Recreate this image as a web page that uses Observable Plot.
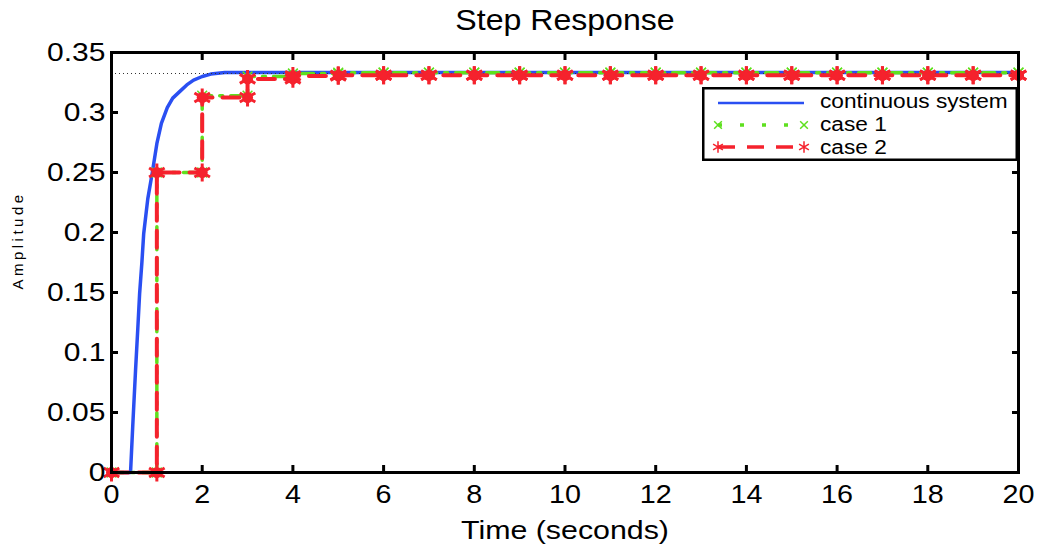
<!DOCTYPE html>
<html>
<head>
<meta charset="utf-8">
<script src="https://cdn.jsdelivr.net/npm/d3@7"></script>
<script src="https://cdn.jsdelivr.net/npm/@observablehq/plot@0.6"></script>
<style>
  html, body { margin: 0; padding: 0; background: #fff; }
  #wrap { position: relative; width: 1040px; height: 550px; }
  #legend { position: absolute; left: 702px; top: 87px; }
</style>
</head>
<body>
<div id="wrap"></div>
<script>
// ---- data ----
const xTicks = [0, 2, 4, 6, 8, 10, 12, 14, 16, 18, 20];
const yTicks = [0, 0.05, 0.1, 0.15, 0.2, 0.25, 0.3, 0.35];
const yTickLabels = ["0", "0.05", "0.1", "0.15", "0.2", "0.25", "0.3", "0.35"];

// continuous system
const contT = [0, 0.42, 0.47, 0.53, 0.58, 0.62, 0.67, 0.71, 0.8, 0.9, 1.0, 1.1, 1.23, 1.35, 1.52, 1.66, 1.81, 2.0, 2.19, 2.5, 3, 4, 20];
const contY = [0, 0, 0.04, 0.085, 0.12, 0.149, 0.175, 0.199, 0.228, 0.25, 0.274, 0.291, 0.304, 0.312, 0.318, 0.323, 0.327, 0.330, 0.332, 0.3333, 0.3333, 0.3333, 0.3333];

// discrete samples
const sampleT = [0, 1, 2, 3, 4, 5, 6, 7, 8, 9, 10, 11, 12, 13, 14, 15, 16, 17, 18, 19, 20];
const case1Y = [0, 0.25, 0.314, 0.330, 0.3325, 0.3332, 0.3332, 0.3332, 0.3332, 0.3332, 0.3332, 0.3332, 0.3332, 0.3332, 0.3332, 0.3332, 0.3332, 0.3332, 0.3332, 0.3332, 0.3332];
const case2Y = [0, 0.25, 0.3125, 0.328, 0.3305, 0.331, 0.331, 0.331, 0.331, 0.331, 0.331, 0.331, 0.331, 0.331, 0.331, 0.331, 0.331, 0.331, 0.331, 0.331, 0.331];

const finalValue = [0.3325];

const seriesNames = ["continuous system", "case 1", "case 2"];
const titleText = "Step Response";
const xLabel = "Time (seconds)";
const yLabel = "Amplitude";

// ---- derived tables ----
const cont = contT.map((t, i) => ({t, y: contY[i]}));
const c1 = sampleT.map((t, i) => ({t, y: case1Y[i]}));
const c2 = sampleT.map((t, i) => ({t, y: case2Y[i]}));
function corners(arr) {
  const out = [];
  for (let i = 0; i < arr.length; i++) {
    out.push(arr[i]);
    if (i + 1 < arr.length) out.push({t: arr[i + 1].t, y: arr[i].y});
  }
  return out;
}
const c1c = corners(c1);
const c2c = corners(c2);

const BLUE = "#2a4ff2", GREEN = "#5ee01e", RED = "#f5222d";
const FONT = "'Liberation Sans', Arial, Helvetica, sans-serif";

const chart = Plot.plot({
  width: 1040,
  height: 550,
  marginLeft: 111,
  marginRight: 22,
  marginTop: 52,
  marginBottom: 78,
  style: {fontFamily: FONT, background: "#fff", color: "#000"},
  x: {domain: [0, 20]},
  y: {domain: [0, 0.35]},
  marks: [
    Plot.line(cont, {x: "t", y: "y", stroke: BLUE, strokeWidth: 3.5}),
    Plot.ruleY(finalValue, {stroke: "#333", strokeWidth: 1, strokeDasharray: "1,3"}),
    Plot.line(c1, {x: "t", y: "y", curve: "step-after", stroke: GREEN, strokeWidth: 3.5, strokeDasharray: "12,8,3,8"}),
    Plot.dot(c1c, {x: "t", y: "y", symbol: "times", r: 4.5, stroke: GREEN, strokeWidth: 1.5}),
    Plot.line(c2, {x: "t", y: "y", curve: "step-after", stroke: RED, strokeWidth: 4, strokeDasharray: "17,10"}),
    Plot.dot(c2c, {x: "t", y: "y", r: 5.5, fill: RED, stroke: "none"}),
    Plot.dot(c2c, {x: "t", y: "y", symbol: "asterisk", r: 8.5, stroke: RED, strokeWidth: 3}),
    Plot.frame({stroke: "#000", strokeWidth: 3}),
    Plot.axisX({ticks: xTicks, tickSize: -7, tickPadding: 20, strokeWidth: 3, fontSize: 25, label: null}),
    Plot.axisX({anchor: "top", ticks: xTicks, tickSize: -7, strokeWidth: 3, tickFormat: () => "", label: null}),
    Plot.axisY({ticks: yTicks, tickSize: -7, tickPadding: 13, strokeWidth: 3, fontSize: 25,
      tickFormat: d => yTickLabels[yTicks.indexOf(d)], label: null}),
    Plot.axisY({anchor: "right", ticks: yTicks, tickSize: -7, strokeWidth: 3, tickFormat: () => "", label: null}),
    Plot.text([titleText], {frameAnchor: "top", lineAnchor: "top", dy: -44, fontSize: 30, fill: "#000"}),
    Plot.text([xLabel], {frameAnchor: "bottom", lineAnchor: "top", dy: 48, fontSize: 25.5, fill: "#000"}),
    Plot.text([yLabel], {frameAnchor: "left", textAnchor: "middle", dx: -93, dy: -22, rotate: -90, fontSize: 15, fill: "#000"})
  ]
});

// widen text horizontally to match the reference's stretched glyphs
function stretchEl(el, k) {
  const tr = el.getAttribute("transform") || "";
  el.setAttribute("transform", tr + ` scale(${k},1)`);
}
chart.querySelectorAll('g[aria-label="x-axis tick label"] text').forEach(el => stretchEl(el, 1.15));
chart.querySelectorAll('g[aria-label="y-axis tick label"] text').forEach(el => stretchEl(el, 1.2));
chart.querySelectorAll("text").forEach(el => {
  const s = el.textContent;
  if (s === titleText) stretchEl(el, 1.07);
  else if (s === xLabel) stretchEl(el, 1.19);
  else if (s === yLabel) el.setAttribute("letter-spacing", "3.5");
});

document.getElementById("wrap").appendChild(chart);

// ---- legend ----
const lg = d3.create("svg").attr("id", "legend").attr("width", 318).attr("height", 76)
  .style("font-family", FONT);
lg.append("rect").attr("x", 1.25).attr("y", 1.25).attr("width", 313.5).attr("height", 71.5)
  .attr("fill", "#fff").attr("stroke", "#000").attr("stroke-width", 2.5);
const rows = [
  {name: seriesNames[0], color: BLUE, dash: null, ly: 16, ty: 21, sym: null},
  {name: seriesNames[1], color: GREEN, dash: "4,18", ly: 38, ty: 44, sym: "times"},
  {name: seriesNames[2], color: RED, dash: "17,12", ly: 60, ty: 67, sym: "asterisk"}
];
rows.forEach(r => {
  lg.append("line").attr("x1", 16).attr("x2", 102).attr("y1", r.ly).attr("y2", r.ly)
    .attr("stroke", r.color).attr("stroke-width", r.dash ? 3.5 : 2.5)
    .attr("stroke-dasharray", r.dash);
  if (r.sym) {
    const sym = r.sym === "times" ? d3.symbolTimes : d3.symbolAsterisk;
    [16, 102].forEach(x => {
      lg.append("path").attr("d", d3.symbol(sym, r.sym === "times" ? 40 : 90)())
        .attr("transform", `translate(${x},${r.ly})`)
        .attr("fill", "none").attr("stroke", r.color).attr("stroke-width", 1.5);
    });
  }
  lg.append("text").attr("transform", `translate(118,${r.ty}) scale(1.08,1)`)
    .attr("font-size", 21).attr("fill", "#000").text(r.name);
});
document.getElementById("wrap").appendChild(lg.node());
</script>
</body>
</html>
